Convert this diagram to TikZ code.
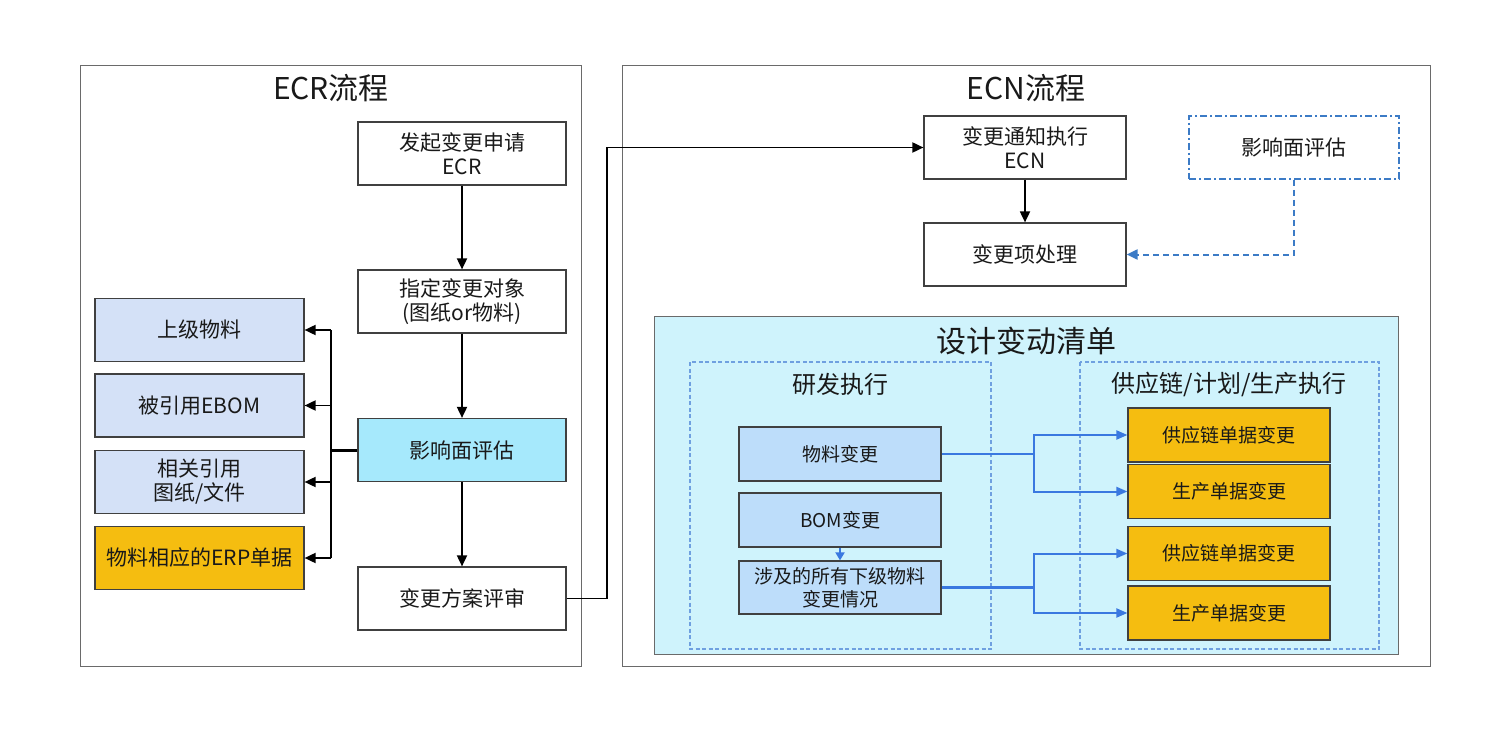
\documentclass[tikz,border=0pt]{standalone}
\usepackage{fontspec}
\setmainfont{Noto Sans CJK SC}
\usetikzlibrary{arrows.meta}
\definecolor{lblue}{HTML}{D4E1F7}
\definecolor{cyanbox}{HTML}{A6E9FC}
\definecolor{gold}{HTML}{F5BD10}
\definecolor{panel}{HTML}{CFF3FC}
\definecolor{innerblue}{HTML}{BDDDFA}
\definecolor{linkblue}{HTML}{3A78E0}
\definecolor{dashblue}{HTML}{6FA0E0}
\definecolor{dotblue}{HTML}{3C7BC6}
\definecolor{edgegray}{HTML}{404040}
\definecolor{framegray}{HTML}{6A6A6A}
\begin{document}
\begin{tikzpicture}[x=1pt,y=-1pt,
  box/.style={draw=edgegray,line width=1.2pt,align=center,inner sep=0pt,text=black!90,font=\fontsize{21}{24}\selectfont},
  ecrbox/.style={box,minimum width=208pt,minimum height=63pt},
  leftbox/.style={box,minimum width=209pt,minimum height=63pt},
  ecnbox/.style={box,minimum width=202pt,minimum height=63pt},
  rdbox/.style={box,fill=innerblue,minimum width=202pt,minimum height=54pt,font=\fontsize{19}{23}\selectfont},
  goldbox/.style={box,fill=gold,minimum width=202pt,minimum height=53.5pt,font=\fontsize{19}{23}\selectfont},
  arr/.style={draw=black,line width=1.8pt,-{Triangle[length=11pt,width=10pt]}},
  barr/.style={draw=linkblue,line width=2pt,-{Triangle[length=11pt,width=9pt]}},
  frame/.style={draw=framegray,line width=0.9pt},
  title/.style={inner sep=0pt,text=black!90}
]
\useasboundingbox[fill=white] (0,0) rectangle (1502,738);
% frames
\draw[frame] (80,65) rectangle (581,666);
\draw[frame] (622,65) rectangle (1430,666);
\node[title,font=\fontsize{30}{34}\selectfont] (ecrt) at (331,88) {ECR流程};
\node[title,font=\fontsize{30}{34}\selectfont] (ecnt) at (1026,88) {ECN流程};
% ECR column
\node[ecrbox] (start) at (462,153.5) {发起变更申请\\ECR};
\node[ecrbox] (obj) at (462,301.5) {指定变更对象\\(图纸or物料)};
\node[ecrbox,fill=cyanbox] (imp) at (462,450) {影响面评估};
\node[ecrbox] (rev) at (462,598.5) {变更方案评审};
% left boxes
\node[leftbox,fill=lblue] (up) at (199.5,330) {上级物料};
\node[leftbox,fill=lblue] (ebom) at (199.5,405.5) {被引用EBOM};
\node[leftbox,fill=lblue] (doc) at (199.5,482) {相关引用\\图纸/文件};
\node[leftbox,fill=gold] (erp) at (199.5,558) {物料相应的ERP单据};
\draw[arr] (start) -- (obj);
\draw[arr] (obj) -- (imp);
\draw[arr] (imp) -- (rev);
\coordinate (bus) at (331,450);
\draw[line width=3pt] (imp.west) -- (bus);
\draw[line width=2pt] (bus |- up.east) -- (bus |- erp.east);
\draw[arr] (bus |- up.east) -- (up.east);
\draw[arr] (bus |- ebom.east) -- (ebom.east);
\draw[arr] (bus |- doc.east) -- (doc.east);
\draw[arr] (bus |- erp.east) -- (erp.east);
% ECN column
\node[ecnbox] (ecn) at (1025,147.5) {变更通知执行\\ECN};
\node[ecnbox] (proc) at (1025,254.5) {变更项处理};
\node[box,draw=dotblue,dash pattern=on 7pt off 3pt on 2pt off 3pt,line width=1.6pt,minimum width=210pt,minimum height=63pt] (eval) at (1294,147.5) {影响面评估};
\coordinate (turn) at (607,147.5);
\draw[arr] (rev.east) -| (turn) -- (ecn.west);
\draw[arr] (ecn) -- (proc);
\draw[draw=dotblue,dash pattern=on 6pt off 4pt,line width=2pt,-{Triangle[length=11pt,width=10pt]}] (eval.south) |- (proc.east);
% design change list
\draw[frame,fill=panel] (654,316) rectangle (1398,654);
\node[title,font=\fontsize{30}{34}\selectfont] (dct) at (1026,341) {设计变动清单};
\draw[draw=dashblue,dash pattern=on 4pt off 2.5pt,line width=1.2pt] (690,362) rectangle (991,649);
\draw[draw=dashblue,dash pattern=on 4pt off 2.5pt,line width=1.2pt] (1080,362) rectangle (1379,649);
\node[title,font=\fontsize{24}{28}\selectfont] (rdt) at (840,384) {研发执行};
\node[title,font=\fontsize{24}{28}\selectfont] (sct) at (1229,384) {供应链/计划/生产执行};
\node[rdbox] (mat) at (840,454) {物料变更};
\node[rdbox] (bom) at (840,520) {BOM变更};
\node[rdbox,minimum height=53pt] (sub) at (840,587.5) {涉及的所有下级物料\\变更情况};
\draw[draw=linkblue,line width=1.8pt,-{Triangle[length=8pt,width=9pt]}] (bom) -- (sub);
\node[goldbox,minimum height=54pt] (g1) at (1229,435) {供应链单据变更};
\node[goldbox] (g2) at (1229,491.5) {生产单据变更};
\node[goldbox] (g3) at (1229,553.5) {供应链单据变更};
\node[goldbox,minimum height=54pt] (g4) at (1229,613) {生产单据变更};
\coordinate (j1) at (1034,454);
\coordinate (j2) at (1034,587.5);
\draw[draw=linkblue,line width=2pt] (mat.east) -- (j1);
\draw[barr] (j1) |- (g1.west);
\draw[barr] (j1) |- (g2.west);
\draw[draw=linkblue,line width=2.6pt] (sub.east) -- (j2);
\draw[barr] (j2) |- (g3.west);
\draw[barr] (j2) |- (g4.west);
\end{tikzpicture}
\end{document}
